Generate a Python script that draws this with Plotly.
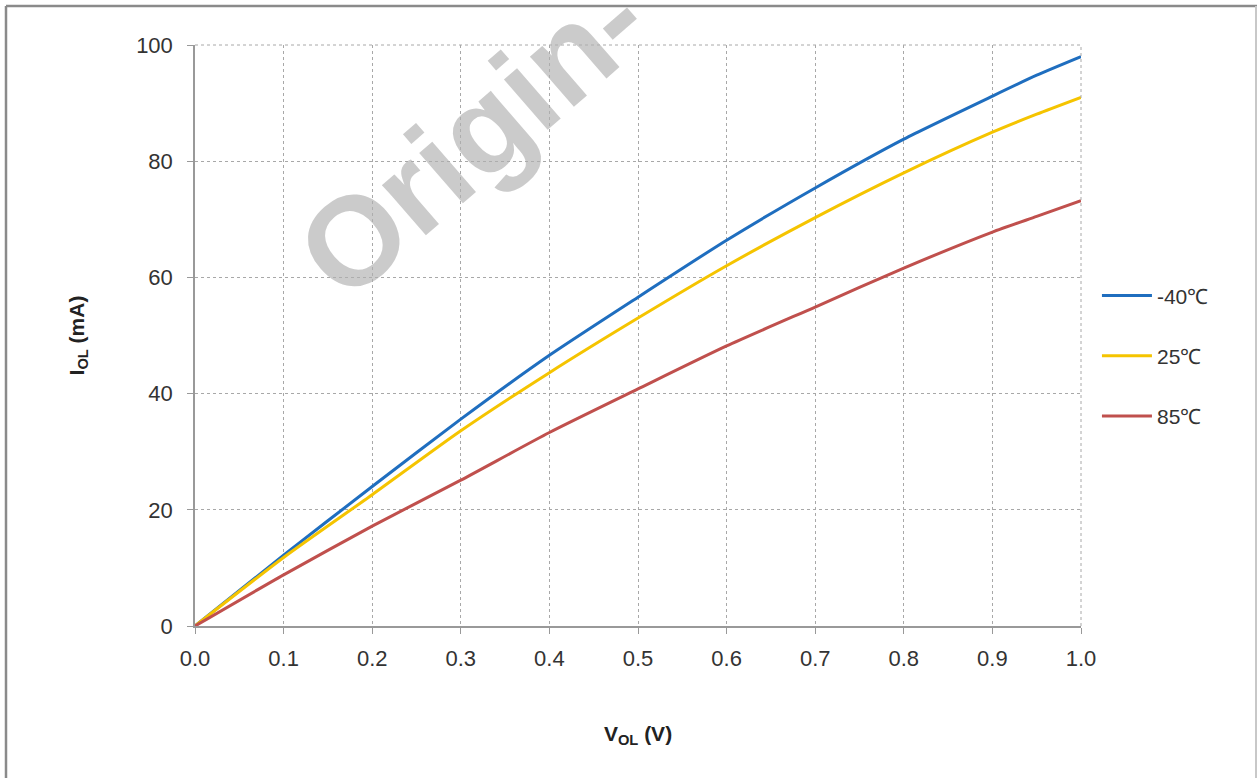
import plotly.graph_objects as go

v_ol = [0.0, 0.1, 0.2, 0.3, 0.4, 0.5, 0.6, 0.7, 0.8, 0.9, 0.95, 1.0]
i_m40 = [0.0, 12.2, 24.0, 35.6, 46.6, 56.6, 66.4, 75.4, 83.8, 91.2, 94.8, 98.0]
i_25 = [0.0, 11.8, 22.6, 33.6, 43.6, 53.0, 62.0, 70.3, 78.0, 85.0, 88.1, 91.0]
i_85 = [0.0, 8.8, 17.2, 25.1, 33.3, 40.8, 48.2, 54.9, 61.6, 67.8, 70.5, 73.2]

series = [("-40℃", i_m40, "#1F6EBF"), ("25℃", i_25, "#F5C400"), ("85℃", i_85, "#C0504D")]

x_ticks = [0.0, 0.1, 0.2, 0.3, 0.4, 0.5, 0.6, 0.7, 0.8, 0.9, 1.0]
x_tick_text = ["0.0", "0.1", "0.2", "0.3", "0.4", "0.5", "0.6", "0.7", "0.8", "0.9", "1.0"]
y_ticks = [0, 20, 40, 60, 80, 100]

fig = go.Figure()
for i, (name, ys, col) in enumerate(series):
    fig.add_trace(go.Scatter(x=v_ol, y=ys, name=name, mode="lines",
                             line=dict(color=col, width=3, shape="spline", smoothing=0.6),
                             legendgroup=str(i)))

font_fam = "Liberation Sans, Arial, sans-serif"
grid_col = "#a8a8a8"
fig.update_layout(
    width=1258, height=778,
    margin=dict(l=195, r=177, t=45, b=152),
    paper_bgcolor="white", plot_bgcolor="white",
    font=dict(family=font_fam, size=22, color="#333333"),
    showlegend=True,
    legend=dict(x=1.018, y=0.465, xanchor="left", yanchor="middle",
                font=dict(size=21, color="#333333"), tracegroupgap=30,
                bgcolor="rgba(0,0,0,0)", itemwidth=50),
    xaxis=dict(range=[0, 1.0], tickvals=x_ticks, ticktext=x_tick_text,
               showgrid=True, gridcolor=grid_col, griddash="3px,3px", gridwidth=1,
               showline=True, linecolor="#999999", linewidth=1.5,
               ticks="outside", ticklen=6, tickcolor="#999999",
               ticklabelstandoff=6,
               zeroline=False, fixedrange=True,
               title=dict(text="<b>V<sub>OL</sub> (V)</b>", font=dict(size=21, color="#222222"), standoff=56)),
    yaxis=dict(range=[0, 100], tickvals=y_ticks,
               showgrid=True, gridcolor=grid_col, griddash="3px,3px", gridwidth=1,
               showline=True, linecolor="#999999", linewidth=1.5,
               ticks="outside", ticklen=6, tickcolor="#999999",
               ticklabelstandoff=10,
               zeroline=False, fixedrange=True,
               title=dict(text="<b>I<sub>OL</sub> (mA)</b>", font=dict(size=21, color="#222222"), standoff=46)),
)

W, H = 886.0, 581.0
# figure border (left, top, right)
fig.add_shape(type="line", xref="paper", yref="paper",
              x0=(6-195)/W, x1=(6-195)/W, y0=(626-790)/H, y1=(626-6)/H,
              line=dict(color="#8a8a8a", width=2.5), layer="above")
fig.add_shape(type="line", xref="paper", yref="paper",
              x0=(6-195)/W, x1=(1257-195)/W, y0=(626-6)/H, y1=(626-6)/H,
              line=dict(color="#8a8a8a", width=2.5), layer="above")
fig.add_shape(type="line", xref="paper", yref="paper",
              x0=(1256-195)/W, x1=(1256-195)/W, y0=(626-790)/H, y1=(626-6)/H,
              line=dict(color="#c8c8c8", width=2), layer="above")

# right gridline at 1.0 and top gridline at 100 (dashed)
fig.add_shape(type="line", xref="paper", yref="paper", x0=1, x1=1, y0=0, y1=1,
              line=dict(color=grid_col, width=1, dash="3px,3px"))
fig.add_shape(type="line", xref="paper", yref="paper", x0=0, x1=1, y0=1, y1=1,
              line=dict(color=grid_col, width=1, dash="3px,3px"))

# watermark
fig.add_annotation(text="<b>Origin-</b>", xref="paper", yref="paper",
                   x=(472-195)/W, y=(626-137)/H, xanchor="center", yanchor="middle",
                   showarrow=False, textangle=-41,
                   font=dict(size=126, color="rgba(175,175,175,0.65)", family=font_fam))

fig.write_html("out.html", post_script="document.body.style.margin='0';",
               config={"displayModeBar": False})
